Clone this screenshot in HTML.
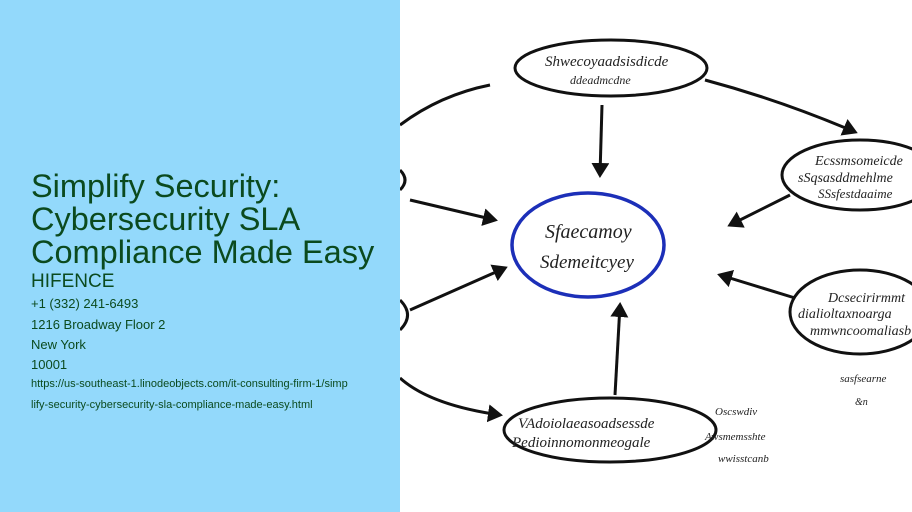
<!DOCTYPE html>
<html><head><meta charset="utf-8"><style>
body{margin:0;width:912px;height:512px;overflow:hidden;background:#fff;font-family:"Liberation Sans",sans-serif}
#l{position:absolute;left:0;top:0;width:400px;height:512px;background:#93d9fb;color:#0b4a1e}
.t{position:absolute;left:31px;top:170px;font-size:32.5px;line-height:33px}
.h{position:absolute;left:31px;top:271px;font-size:19px}
.s{position:absolute;left:31px;font-size:13px}
.u{position:absolute;left:31px;font-size:11px}
svg{position:absolute;left:400px;top:0}
</style></head><body>
<div id="l">
<div class="t">Simplify Security:<br>Cybersecurity SLA<br>Compliance Made Easy</div>
<div class="h">HIFENCE</div>
<div class="s" style="top:296px">+1 (332) 241-6493</div>
<div class="s" style="top:317px">1216 Broadway Floor 2</div>
<div class="s" style="top:337px">New York</div>
<div class="s" style="top:357px">10001</div>
<div class="u" style="top:378px">https://us-southeast-1.linodeobjects.com/it-consulting-firm-1/simp</div>
<div class="u" style="top:399px">lify-security-cybersecurity-sla-compliance-made-easy.html</div>
</div>
<svg width="512" height="512" font-family="Liberation Serif,serif" fill="none" stroke="#111" stroke-width="3">
<defs><marker id="a" markerWidth="6" markerHeight="6" refX="4" refY="3" orient="auto"><path d="M0,0L5,3L0,6z" fill="#111" stroke="none"/></marker></defs>
<ellipse cx="211" cy="68" rx="96" ry="28"/>
<ellipse cx="460" cy="175" rx="78" ry="35"/>
<ellipse cx="460" cy="312" rx="70" ry="42"/>
<ellipse cx="210" cy="430" rx="106" ry="32"/>
<ellipse cx="188" cy="245" rx="76" ry="52" stroke="#1c2fb8" stroke-width="3.5"/>
<path d="M0,125Q40,95 90,85" />
<path d="M0,330Q15,315 0,300"/><path d="M0,190Q10,180 0,170"/>
<g marker-end="url(#a)">
<path d="M202,105L200,175"/>
<path d="M305,80Q380,100 455,132"/>
<path d="M390,195L330,225"/>
<path d="M395,298L320,275"/>
<path d="M215,395L220,305"/>
<path d="M10,200L95,220"/>
<path d="M10,310L105,268"/>
<path d="M0,378Q30,405 100,415"/>
</g>
<g fill="#222" stroke="none" font-size="15" font-style="italic">
<text x="145" y="66">Shwecoyaadsisdicde</text><text x="170" y="84" font-size="12">ddeadmcdne</text>
<text x="415" y="165" font-size="14">Ecssmsomeicde</text><text x="398" y="182" font-size="14">sSqsasddmehlme</text><text x="418" y="198" font-size="13">SSsfestdaaime</text>
<text x="145" y="238" font-size="20">Sfaecamoy</text><text x="140" y="268" font-size="19">Sdemeitcyey</text>
<text x="428" y="302" font-size="14">Dcsecirirmmt</text><text x="398" y="318" font-size="14">dialioltaxnoarga</text><text x="410" y="335" font-size="14">mmwncoomaliasb</text>
<text x="118" y="428" font-size="15">VAdoiolaeasoadsessde</text><text x="112" y="447" font-size="15">Pedioinnomonmeogale</text>
<text x="315" y="415" font-size="11">Oscswdiv</text><text x="305" y="440" font-size="11">Awsmemsshte</text><text x="318" y="462" font-size="11">wwisstcanb</text>
<text x="440" y="382" font-size="11">sasfsearne</text><text x="455" y="405" font-size="10">&amp;n</text>
</g>
</svg>
</body></html>
